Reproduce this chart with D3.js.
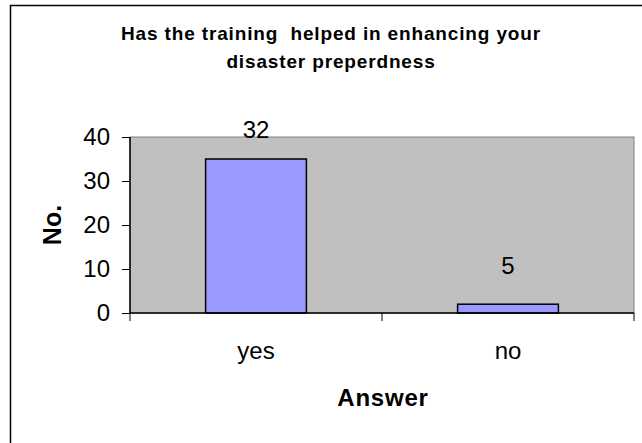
<!DOCTYPE html>
<html>
<head>
<meta charset="utf-8">
<script src="https://cdn.jsdelivr.net/npm/d3@7"></script>
<style>
  html, body { margin: 0; padding: 0; background: #fff; }
  svg { display: block; font-family: "Liberation Sans", Arial, sans-serif; }
</style>
</head>
<body>
<div id="chart"></div>
<script>
// data
const categories = ["yes", "no"];
const barValues = [35, 2];        // bar heights as drawn
const barLabels = ["32", "5"];    // labels printed above the bars
const yTicks = [0, 10, 20, 30, 40];
const titleLines = ["Has the training  helped in enhancing your", "disaster preperdness"];

const W = 642, H = 443;
const plot = { left: 130, right: 634, top: 137, bottom: 313 };

const svg = d3.select("#chart").append("svg")
  .attr("width", W).attr("height", H);

// outer chart frame (right/bottom edges fall outside the picture)
svg.append("path")
  .attr("d", `M10.5,${H + 5} V5.5 H${W + 5}`)
  .attr("fill", "none").attr("stroke", "#000").attr("stroke-width", 1.5);

const x = d3.scaleBand().domain(categories)
  .range([plot.left, plot.right]).paddingInner(0.6).paddingOuter(0.3);
const y = d3.scaleLinear().domain([0, 40]).range([plot.bottom, plot.top]);

// plot area background
svg.append("rect")
  .attr("x", plot.left).attr("y", plot.top)
  .attr("width", plot.right - plot.left).attr("height", plot.bottom - plot.top)
  .attr("fill", "#c0c0c0").attr("stroke", "#808080").attr("stroke-width", 1);

// bars
svg.append("g").selectAll("rect")
  .data(categories)
  .join("rect")
  .attr("x", d => x(d))
  .attr("y", (d, i) => y(barValues[i]))
  .attr("width", x.bandwidth())
  .attr("height", (d, i) => y(0) - y(barValues[i]))
  .attr("fill", "#9999ff")
  .attr("stroke", "#000").attr("stroke-width", 1.5);

// value labels
svg.append("g").selectAll("text")
  .data(categories)
  .join("text")
  .attr("x", d => x(d) + x.bandwidth() / 2)
  .attr("y", (d, i) => y(barValues[i]) - 21 - (i === 1 ? 9 : 0))
  .attr("text-anchor", "middle")
  .attr("font-size", 24)
  .text((d, i) => barLabels[i]);

// y axis
const yAxis = svg.append("g")
  .attr("transform", `translate(${plot.left},0)`)
  .call(d3.axisLeft(y).tickValues(yTicks).tickSize(8).tickPadding(12));
yAxis.select(".domain").attr("stroke-width", 1.5).attr("d", `M0,${plot.top}V${plot.bottom}`);
yAxis.selectAll("text").attr("font-size", 24).attr("fill", "#000")
  .attr("font-family", "Liberation Sans, Arial, sans-serif");

// x axis: ticks sit on band boundaries like the original
const xAxisG = svg.append("g").attr("transform", `translate(0,${plot.bottom})`);
xAxisG.append("line")
  .attr("x1", plot.left).attr("x2", plot.right)
  .attr("stroke", "#000").attr("stroke-width", 1.5);
const bounds = [plot.left, plot.left + (plot.right - plot.left) / 2, plot.right];
xAxisG.selectAll("line.tick")
  .data(bounds)
  .join("line")
  .attr("class", "tick")
  .attr("x1", d => d).attr("x2", d => d)
  .attr("y1", 0).attr("y2", 8)
  .attr("stroke", "#000").attr("stroke-width", 1);
xAxisG.selectAll("text")
  .data(categories)
  .join("text")
  .attr("x", d => x(d) + x.bandwidth() / 2)
  .attr("y", 46)
  .attr("text-anchor", "middle")
  .attr("font-size", 24)
  .text(d => d);

// axis titles
svg.append("text")
  .attr("x", 383).attr("y", 406)
  .attr("text-anchor", "middle")
  .attr("font-size", 24).attr("font-weight", "bold")
  .attr("letter-spacing", 0.8)
  .text("Answer");

svg.append("text")
  .attr("transform", "translate(61,225) rotate(-90)")
  .attr("text-anchor", "middle")
  .attr("font-size", 25).attr("font-weight", "bold")
  .text("No.");

// title
svg.append("g").selectAll("text")
  .data(titleLines)
  .join("text")
  .attr("x", 331)
  .attr("y", (d, i) => 40 + i * 28)
  .attr("text-anchor", "middle")
  .attr("font-size", 19).attr("font-weight", "bold")
  .attr("letter-spacing", 0.85)
  .attr("xml:space", "preserve")
  .style("white-space", "pre")
  .text(d => d);
</script>
</body>
</html>
